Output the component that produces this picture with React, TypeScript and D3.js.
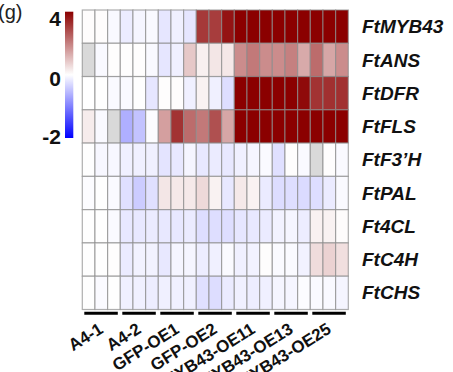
import React from "react";
import * as d3 from "d3";

const genes = ["FtMYB43", "FtANS", "FtDFR", "FtFLS", "FtF3\u2019H", "FtPAL", "Ft4CL", "FtC4H", "FtCHS"];
const groups = ["A4-1", "A4-2", "GFP-OE1", "GFP-OE2", "FtMYB43-OE11", "FtMYB43-OE13", "FtMYB43-OE25"];
const replicates = [1, 2, 3];

const myb43 = [0.05, 0.05, -0.05, -0.15, -0.08, -0.05, -0.2, -0.12, -0.2, 3.1, 3.05, 3.7, 4.5, 4.5, 4.5, 4.5, 4.5, 4.5, 4.5, 4.5, 4.5];
const ans = [null, -0.05, 0.03, 0.03, 0.03, -0.05, -0.2, -0.12, 0.86, 0.24, 0.4, 0.36, 1.8, 2.1, 1.8, 1.8, 2.0, 1.33, 2.3, 1.4, 1.8];
const dfr = [0, 0.02, -0.04, -0.04, 0.02, -0.2, 0.03, 0.03, -0.12, 0.2, -0.12, -0.26, 4.5, 4.5, 4.5, 4.5, 4.5, 3.85, 3.2, 3.25, 3.25];
const fls = [0.3, -0.05, null, -0.63, -0.47, -0.02, 1.5, 3.2, 2.3, 2.1, 2.75, 1.4, 4.5, 4.5, 4.5, 4.5, 4.5, 4.5, 4.5, 4.5, 4.5];
const f3h = [0.02, -0.06, -0.06, -0.12, -0.12, -0.12, -0.21, -0.18, -0.08, -0.18, -0.16, -0.18, -0.12, -0.08, -0.04, -0.24, 0.03, -0.04, null, 0.03, -0.04];
const pal = [-0.02, 0.02, -0.04, -0.24, -0.4, -0.24, 0.4, 0.35, 0.35, 0.6, 0.2, -0.18, 0.35, 0.2, -0.16, -0.27, -0.26, -0.28, -0.26, -0.16, -0.04];
const cl4 = [0.02, 0.02, -0.04, -0.18, -0.18, -0.16, -0.18, -0.18, -0.16, -0.26, -0.26, -0.26, -0.2, -0.18, -0.16, -0.1, -0.08, -0.14, 0.22, 0.2, 0.05];
const c4h = [0.02, 0.02, 0.03, -0.16, -0.1, -0.1, -0.18, -0.08, -0.08, -0.14, -0.12, -0.04, -0.12, -0.1, 0.03, -0.04, -0.04, -0.1, 0.55, 0.7, 0.5];
const chs = [0.02, -0.04, 0.02, -0.12, -0.12, -0.14, -0.12, -0.12, -0.12, -0.24, -0.27, -0.16, -0.12, -0.14, -0.12, -0.08, -0.08, -0.02, -0.04, -0.05, -0.08];

const colorTicks = [4, 0, -2];
const panelLabel = "(g)";

const rows = [myb43, ans, dfr, fls, f3h, pal, cl4, c4h, chs];

export default function App() {
  const W = 453;
  const H = 372;
  const left = 82.3;
  const right = 348.3;
  const top = 10;
  const bottom = 309.5;

  const columns = groups.flatMap((g) => replicates.map((r) => `${g}_${r}`));
  const x = d3.scaleBand<string>().domain(columns).range([left, right]);
  const y = d3.scaleBand<string>().domain(genes).range([top, bottom]);
  const gx = d3.scaleBand<string>().domain(groups).range([left, right]);

  const color = d3
    .scaleLinear<string>()
    .domain([-2, 0, 4])
    .range(["#0000ff", "#ffffff", "#8b0000"])
    .clamp(true);

  const barTop = 11.7;
  const barBottom = 138;
  const barY = d3.scaleLinear().domain([4, 0, -2]).range([barTop, (barTop + barBottom) / 2, barBottom]);
  const labelY = d3.scaleLinear().domain([4, 0, -2]).range([18, 78, 136]);
  const gradStops = d3.range(0, 1.0001, 0.05).map((t) => ({
    t,
    c: color(barY.invert(barTop + t * (barBottom - barTop))),
  }));

  const font = "Arial, 'Liberation Sans', Helvetica, sans-serif";

  return (
    <svg
      width={W}
      height={H}
      style={{ position: "absolute", left: 0, top: 0, background: "#fff" }}
      fontFamily={font}
    >
      <defs>
        <linearGradient id="cbar" x1="0" y1="0" x2="0" y2="1">
          {gradStops.map((s, i) => (
            <stop key={i} offset={s.t} stopColor={s.c} />
          ))}
        </linearGradient>
      </defs>

      <text x={22.5} y={19} textAnchor="end" fontSize={20} fill="#222">
        {panelLabel}
      </text>

      {/* colour bar */}
      <rect x={65} y={barTop} width={8.3} height={barBottom - barTop} fill="url(#cbar)" />
      {colorTicks.map((v) => (
        <text
          key={v}
          x={61}
          y={labelY(v)}
          dy="0.36em"
          textAnchor="end"
          fontSize={21}
          fontWeight="bold"
          fill="#111"
        >
          {v}
        </text>
      ))}

      {/* cells */}
      {rows.map((vals, ri) =>
        vals.map((v, ci) => (
          <rect
            key={`${ri}-${ci}`}
            x={x(columns[ci])}
            y={y(genes[ri])}
            width={x.bandwidth()}
            height={y.bandwidth()}
            fill={v === null ? "#d9d9d9" : color(v as number)}
            stroke="rgba(140,140,140,0.7)"
            strokeWidth={1.2}
          />
        ))
      )}

      {/* row labels */}
      {genes.map((g) => (
        <text
          key={g}
          x={362}
          y={(y(g) as number) + y.bandwidth() / 2}
          dy={6.6}
          fontSize={19}
          fontWeight="bold"
          fontStyle="italic"
          fill="#111"
        >
          {g}
        </text>
      ))}

      {/* group bars and labels */}
      {groups.map((g) => {
        const gx0 = gx(g) as number;
        const cx = gx0 + gx.bandwidth() / 2;
        return (
          <g key={g}>
            <line
              x1={gx0 + 2}
              x2={gx0 + gx.bandwidth() - 2.5}
              y1={313.3}
              y2={313.3}
              stroke="#000"
              strokeWidth={3}
            />
            <text
              transform={`translate(${cx + 3},${332}) rotate(-32)`}
              textAnchor="end"
              fontSize={17}
              fontWeight="bold"
              fill="#111"
            >
              {g}
            </text>
          </g>
        );
      })}
    </svg>
  );
}
